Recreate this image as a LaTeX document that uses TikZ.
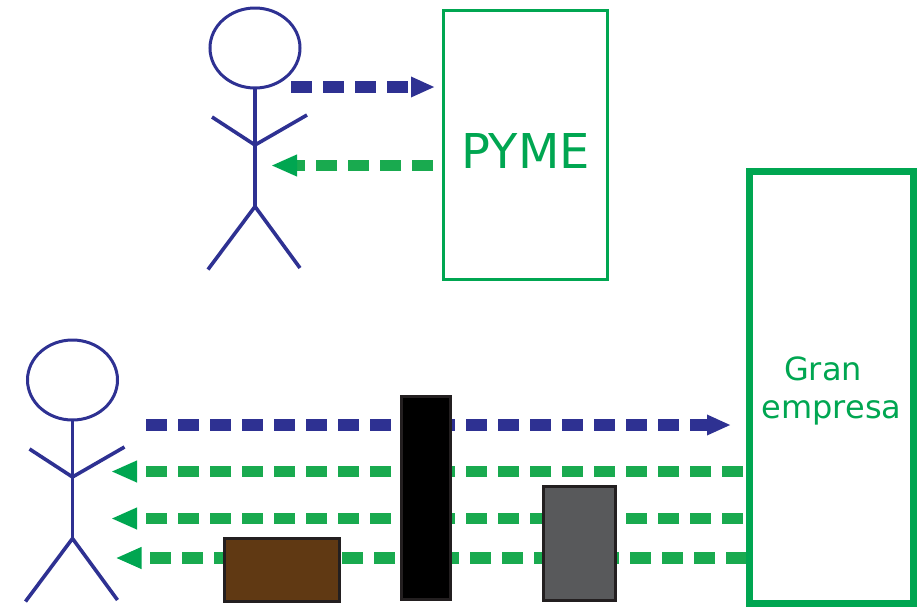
\documentclass[tikz,border=0pt]{standalone}
\usepackage{fontspec}
\setmainfont{DejaVu Sans}
\usepackage{tikz}
\usetikzlibrary{arrows.meta,shapes.geometric}

\definecolor{manblue}{HTML}{2E3192}
\definecolor{boxgreen}{HTML}{00A651}
\definecolor{dashgreen}{HTML}{19AA4F}
\definecolor{crateedge}{HTML}{231F20}
\definecolor{cratebrown}{HTML}{603913}
\definecolor{crategray}{HTML}{58595B}

\tikzset{
 manline/.style={draw=manblue, line width=1.8pt},
 manhead/.style={draw=manblue, line width=1.5pt, shape=ellipse, inner sep=0pt, outer sep=0pt},
 bluearrow/.style={draw=manblue, line width=5.8pt, dash pattern=on 10.7pt off 5.3pt,
   -{Triangle[length=12pt, width=9.5pt, color=manblue]}},
 greenarrow/.style={draw=dashgreen, line width=5.8pt, dash pattern=on 10.7pt off 5.3pt,
   -{Triangle[length=13pt, width=10pt, color=boxgreen]}},
 crate/.style={draw=crateedge, line width=1.5pt, rectangle, inner sep=0pt, outer sep=0pt},
 firmlabel/.style={text=boxgreen, inner sep=0pt, anchor=base}
}

\begin{document}
\begin{tikzpicture}[x=0.5pt, y=-0.5pt]

\useasboundingbox (0,0) rectangle (922,606);

% two stick men, same proportions
 \foreach \x/\y/\man in {255/48/topman, 72.5/380/lowman}
  {
  \node [manhead, minimum width=45pt, minimum height=40pt] (\man head) at (\x,\y) {};
  \path
  (\x,\y+97) coordinate (\man waist)
  (\x,\y+158.5) coordinate (\man hip)
  (\x-43,\y+69) coordinate (\man lefthand)
  (\x+52,\y+67) coordinate (\man righthand)
  (\x-47,\y+221.5) coordinate (\man leftfoot)
  (\x+45,\y+220) coordinate (\man rightfoot);

  \draw[manline] (\man head.south) -- (\man hip);
  \draw[manline] (\man lefthand) -- (\man waist) -- (\man righthand);
  \draw[manline] (\man leftfoot) -- (\man hip) -- (\man rightfoot);
  }

% ends of the arrows
\path
(291,87) coordinate (topsend)
(435,87) coordinate (topget)
(433,165.5) coordinate (topback)
(271,165.5) coordinate (topbackend)
(146,425) coordinate (lowsend)
(731,425) coordinate (lowget);

\draw[bluearrow] (topsend) -- (topget);
\draw[greenarrow] (topback) -- (topbackend);
\draw[bluearrow] (lowsend) -- (lowget);

%% green arrows coming back from the big firm
 \foreach \n/\y/\xa/\xb in {a/471.5/743/111, b/518.5/743/111, c/558/747/115.5}
  {
  \path
  (\xa,\y) coordinate (back\n)
  (\xb,\y) coordinate (backend\n);
  \draw[greenarrow] (back\n) -- (backend\n);
  }

% obstacles
\node [crate, fill=cratebrown, minimum width=57.5pt, minimum height=31.5pt] (brownbox) at (282,569.5) {};
\node [crate, fill=black, minimum width=24.5pt, minimum height=101.5pt] (blackbox) at (425.5,498) {};
\node [crate, fill=crategray, minimum width=36pt, minimum height=57pt] (graybox) at (579.5,543.5) {};

% firms
\node [draw=boxgreen, line width=1.5pt, rectangle, inner sep=0pt, outer sep=0pt, minimum width=82pt, minimum height=134.5pt] (pyme) at (525,144.5) {};
\node [firmlabel, font=\fontsize{24}{28}\selectfont] (pymetext) at (525.5,168) {PYME};

\node [draw=boxgreen, line width=3.5pt, rectangle, inner sep=0pt, outer sep=0pt, minimum width=82pt, minimum height=216pt] (bigfirm) at (831.5,387) {};
\node [firmlabel, font=\fontsize{16}{19}\selectfont] (grantext) at (823,380) {Gran};
\node [firmlabel, font=\fontsize{16}{19}\selectfont] (empresatext) at (831.5,418) {empresa};

\end{tikzpicture}
\end{document}
